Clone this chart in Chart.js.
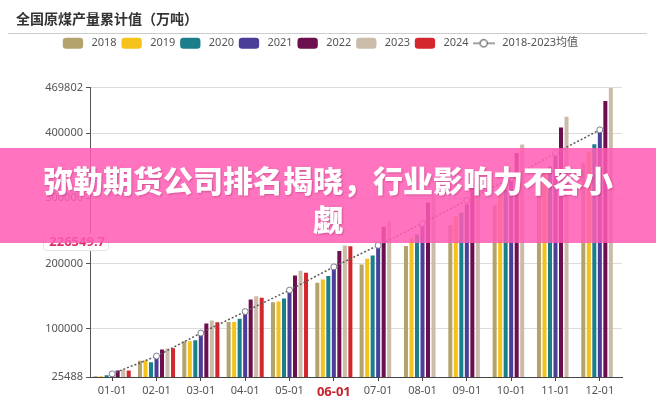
<!DOCTYPE html>
<html>
<head>
<meta charset="utf-8">
<script src="https://cdn.jsdelivr.net/npm/chart.js@4.4.1/dist/chart.umd.min.js"></script>
<style>
  html, body { margin: 0; padding: 0; background: #fff; }
  #wrap { position: relative; width: 656px; height: 400px; overflow: hidden; }
  #banner {
    position: absolute; left: 0; top: 148px; width: 656px; height: 95px;
    box-sizing: border-box; padding: 12px 38px 0;
    background: rgba(255, 90, 180, 0.85); color: #fff;
    font-family: 'Noto Sans CJK SC', sans-serif; font-weight: 900;
    font-size: 30px; line-height: 39px; text-align: center;
    text-shadow: 1px 1px 2px rgba(120, 0, 60, 0.3);
  }
</style>
</head>
<body>
<div id="wrap">
  <canvas id="myChart" width="656" height="400"></canvas>
  <div id="banner">弥勒期货公司排名揭晓，行业影响力不容小觑</div>
</div>
<script>
// data (万吨, cumulative)
var months = ['01-01', '02-01', '03-01', '04-01', '05-01', '06-01', '07-01', '08-01', '09-01', '10-01', '11-01', '12-01'];
var years = ['2018', '2019', '2020', '2021', '2022', '2023', '2024'];
var barColors = ['#b3a46e', '#f5c21b', '#1b7f8b', '#4a3e98', '#6c0f4f', '#cbbca9', '#d3262d'];

var v2018 = [26800, 50300, 80500, 110000, 140500, 170300, 198500, 226600, 258500, 289500, 325000, 354000];
var v2019 = [26800, 51000, 80500, 110000, 141500, 175400, 207200, 238500, 272000, 305000, 343000, 372000];
var v2020 = [28000, 48200, 82000, 114900, 146200, 180500, 212300, 244600, 278000, 313000, 349000, 383000];
var v2021 = [30000, 59000, 91000, 125100, 157400, 194300, 224200, 258500, 291000, 327000, 367000, 403000];
var v2022 = [35400, 67700, 107700, 144600, 181500, 218900, 256500, 293400, 332000, 369800, 409000, 449700];
var v2023 = [36900, 69200, 112300, 149700, 188800, 227700, 265100, 303500, 343000, 382500, 425500, 469802];
var v2024 = [35400, 69700, 109700, 147200, 185700, 226549.7, null, null, null, null, null, null];
var avgLabel = '2018-2023均值';
var avg = [30300, 57600, 93000, 126000, 159000, 194700, 227800, 261500, 297000, 331000, 369700, 405200];

var yTicks = [25488, 100000, 200000, 300000, 400000, 469802];
var latest = 226549.7;
var highlightMonth = '06-01';

Chart.defaults.font.family = "'Noto Sans', 'Noto Sans CJK SC', sans-serif";

var series = [v2018, v2019, v2020, v2021, v2022, v2023, v2024];
var datasets = series.map(function (d, i) {
    return {
        label: years[i],
        data: d,
        backgroundColor: barColors[i],
        borderWidth: 0,
        categoryPercentage: 0.87,
        barPercentage: 0.73,
        order: 1
    };
});
datasets.push({
    type: 'line',
    label: avgLabel,
    data: avg,
    borderColor: '#5a5a5a',
    borderWidth: 1.5,
    borderDash: [2, 2],
    pointRadius: 3,
    pointBackgroundColor: '#fff',
    pointBorderColor: '#7a7f8c',
    pointBorderWidth: 1,
    fill: false,
    tension: 0,
    order: -1
});

// legend icon for the mean line: -o-
var avgIcon = document.createElement('canvas');
avgIcon.width = 22;
avgIcon.height = 10;
var ic = avgIcon.getContext('2d');
ic.strokeStyle = '#666';
ic.lineWidth = 1.2;
ic.beginPath(); ic.moveTo(0, 5); ic.lineTo(22, 5); ic.stroke();
ic.beginPath(); ic.arc(11, 5, 3.6, 0, Math.PI * 2); ic.fillStyle = '#fff'; ic.fill(); ic.stroke();

var legendGap = {
    id: 'legendGap',
    beforeInit: function (chart) {
        var fit = chart.legend.fit;
        chart.legend.fit = function () {
            fit.bind(chart.legend)();
            this.height = 52;
        };
    }
};

var extras = {
    id: 'extras',
    afterDraw: function (chart) {
        var ctx = chart.ctx;
        ctx.save();
        // line under the title
        ctx.strokeStyle = '#ccc';
        ctx.lineWidth = 1;
        ctx.beginPath(); ctx.moveTo(8, 33.5); ctx.lineTo(647, 33.5); ctx.stroke();
        // latest value tag on the y axis
        var y = chart.scales.y.getPixelForValue(latest) - 4;
        ctx.fillStyle = '#fff';
        ctx.strokeStyle = '#e3e3e3';
        ctx.beginPath(); ctx.roundRect(43.5, y - 8.5, 65, 17, 3); ctx.fill(); ctx.stroke();
        ctx.fillStyle = '#dc2f66';
        ctx.font = "bold 13px 'Noto Sans', sans-serif";
        ctx.textAlign = 'right';
        ctx.textBaseline = 'middle';
        ctx.fillText(String(latest), 105, y);
        ctx.restore();
    }
};

new Chart('myChart', {
    type: 'bar',
    data: { labels: months, datasets: datasets },
    options: {
        responsive: false,
        animation: false,
        layout: { padding: { left: 16, right: 34, top: 0, bottom: 0 } },
        plugins: {
            title: {
                display: true,
                text: '全国原煤产量累计值（万吨）',
                align: 'start',
                color: '#333',
                font: { size: 14, weight: 'bold', family: "'Noto Sans CJK SC', sans-serif" },
                padding: { top: 10, bottom: 9 }
            },
            legend: {
                labels: {
                    usePointStyle: true,
                    pointStyleWidth: 26,
                    boxHeight: 9,
                    padding: 2,
                    color: '#555',
                    font: { size: 11 },
                    sort: function (a, b) { return a.datasetIndex - b.datasetIndex; },
                    generateLabels: function (chart) {
                        var items = Chart.defaults.plugins.legend.labels.generateLabels(chart);
                        items.forEach(function (it) {
                            it.pointStyle = it.datasetIndex === years.length ? avgIcon : 'rectRounded';
                        });
                        return items;
                    }
                }
            },
            tooltip: { enabled: false }
        },
        scales: {
            x: {
                grid: { drawOnChartArea: false, offset: false, tickLength: 4, tickColor: '#444' },
                border: { color: '#444' },
                ticks: {
                    autoSkip: false,
                    maxRotation: 0,
                    padding: 3,
                    color: function (c) { return months[c.index] === highlightMonth ? '#c8232c' : '#555'; },
                    font: function (c) { return months[c.index] === highlightMonth ? { size: 13, weight: 'bold' } : { size: 11 }; }
                },
                afterFit: function (s) { s.height = 23; }
            },
            y: {
                min: yTicks[0],
                max: yTicks[yTicks.length - 1],
                afterBuildTicks: function (s) { s.ticks = yTicks.map(function (v) { return { value: v }; }); },
                grid: {
                    color: function (c) { return c.tick && c.tick.value === yTicks[0] ? 'rgba(0,0,0,0)' : '#dcdcdc'; },
                    tickLength: 4,
                    tickColor: '#555'
                },
                border: { color: '#555' },
                ticks: { color: '#555', font: { size: 11 }, padding: 3, callback: function (v) { return String(v); } },
                afterFit: function (s) { s.width = 74; }
            }
        }
    },
    plugins: [legendGap, extras]
});
</script>
</body>
</html>
